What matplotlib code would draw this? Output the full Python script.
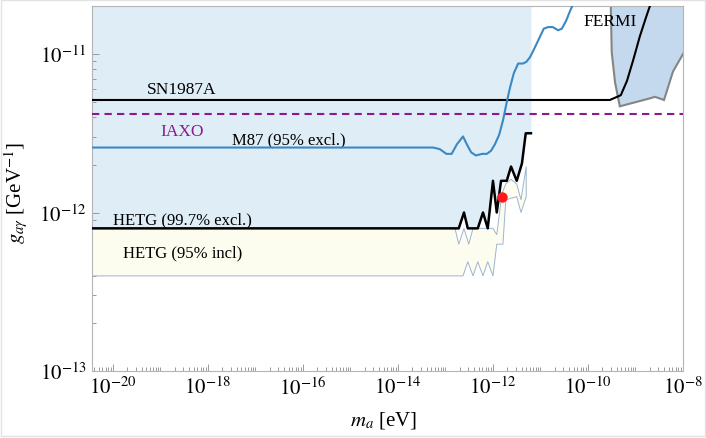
import matplotlib
matplotlib.use("Agg")
import matplotlib.pyplot as plt
import numpy as np
from matplotlib.ticker import FixedLocator, LogLocator, NullFormatter, FixedFormatter

plt.rcParams['font.family'] = ['Liberation Serif', 'DejaVu Serif']
plt.rcParams['mathtext.fontset'] = 'stix'

# all values as log10(m_a / eV) and log10(g / GeV^-1)
XLIM = (-20.44, -8.0)
YLIM = (-13.0, -10.697)

# HETG 99.7% exclusion (black line)
hetg_m = [-20.6, -12.72, -12.61, -12.53, -12.32, -12.21, -12.11, -12.00, -11.92,
          -11.83, -11.71, -11.62, -11.50, -11.39, -11.31, -11.20]
hetg_g = [-12.10, -12.10, -12.00, -12.10, -12.10, -12.00, -12.10, -11.80, -12.00,
          -11.80, -11.80, -11.71, -11.80, -11.69, -11.50, -11.50]

# HETG 95% inclusion band
band_up_m = [-20.6, -12.80, -12.72, -12.61, -12.51, -12.42, -12.00, -11.92, -11.81,
             -11.73, -11.62, -11.50, -11.41, -11.30]
band_up_g = [-12.10, -12.10, -12.20, -12.10, -12.20, -12.10, -12.10, -12.14, -11.88,
             -11.82, -11.79, -11.82, -11.92, -11.71]
band_lo_m = [-20.6, -12.63, -12.53, -12.42, -12.32, -12.21, -12.11, -12.00, -11.92,
             -11.79, -11.73, -11.50, -11.41, -11.30]
band_lo_g = [-12.40, -12.40, -12.31, -12.40, -12.31, -12.40, -12.31, -12.40, -12.20,
             -12.20, -11.92, -11.90, -12.00, -11.90]

# M87 95% exclusion
m87_m = [-20.6, -13.26, -13.12, -12.98, -12.87, -12.76, -12.63, -12.55, -12.46, -12.36,
         -12.23, -12.13, -12.04, -11.96, -11.87, -11.79, -11.70, -11.64, -11.56, -11.47,
         -11.37, -11.30, -11.22, -11.12, -11.01, -10.93, -10.84, -10.74, -10.63, -10.55,
         -10.46, -10.38, -10.32]
m87_g = [-11.59, -11.59, -11.60, -11.63, -11.63, -11.57, -11.52, -11.57, -11.62, -11.64,
         -11.63, -11.63, -11.61, -11.57, -11.51, -11.42, -11.29, -11.21, -11.12, -11.06,
         -11.06, -11.05, -11.02, -10.96, -10.89, -10.84, -10.83, -10.83, -10.85, -10.84,
         -10.79, -10.73, -10.69]

# SN1987A
sn_m = [-20.6, -9.54, -9.31, -9.18, -9.05, -8.91, -8.78, -8.70, -8.63]
sn_g = [-11.29, -11.29, -11.26, -11.17, -11.04, -10.89, -10.77, -10.70, -10.65]

# FERMI excluded region
fermi_m = [-9.52, -9.52, -9.50, -9.43, -9.33, -8.70, -8.59, -8.40, -8.21, -8.00, -7.80, -7.80]
fermi_g = [-10.60, -10.70, -10.99, -11.18, -11.33, -11.28, -11.27, -11.29, -11.11, -11.00,
           -10.90, -10.60]

# IAXO sensitivity
iaxo_g = -11.379

# best fit point
dot_m, dot_g = -11.81, -11.90


def p(v):
    return 10.0 ** np.asarray(v, dtype=float)


fig = plt.figure(figsize=(7.06, 4.39), dpi=100)
ax = fig.add_axes([92 / 706, 1 - 372 / 439, (683 - 92) / 706, (372 - 7) / 439])
ax.set_xscale('log')
ax.set_yscale('log')

top = 10 ** -10.5
ax.fill_between(p(hetg_m), p(hetg_g), top, color='#deedf6', lw=0, zorder=1)
ax.fill(np.concatenate([p(band_up_m), p(band_lo_m)[::-1]]),
        np.concatenate([p(band_up_g), p(band_lo_g)[::-1]]),
        facecolor='#fdfdef', edgecolor='#9db4d0', lw=0.7, zorder=2)
ax.fill(p(fermi_m), p(fermi_g), facecolor='#c5d9ee', edgecolor='#858585', lw=1.5, zorder=2)

ax.axhline(p(iaxo_g), color='#8c1a8c', lw=1.5, ls=(0, (3.5, 2.5)), zorder=3)
ax.plot(p(sn_m), p(sn_g), color='black', lw=1.5, zorder=4)
ax.plot(p(m87_m), p(m87_g), color='#3b88c3', lw=1.5, zorder=4)
ax.plot(p(hetg_m), p(hetg_g), color='black', lw=1.8, zorder=5)
ax.plot(p(dot_m), p(dot_g), 'o', color='#ff1a1a', ms=6.5, zorder=6)

fs = 12.5
ax.text(p(-18.55), p(-11.221), 'SN1987A', fontsize=fs, ha='center', va='center')
ax.text(p(-18.55), p(-11.486), 'IAXO', fontsize=fs, ha='center', va='center', color='#8c1a8c')
ax.text(p(-16.30), p(-11.536), 'M87 (95% excl.)', fontsize=fs - 0.5, ha='center', va='center')
ax.text(p(-18.53), p(-12.041), 'HETG (99.7% excl.)', fontsize=fs - 0.5, ha='center', va='center')
ax.text(p(-18.53), p(-12.249), 'HETG (95% incl)', fontsize=fs - 0.5, ha='center', va='center')
ax.text(p(-9.54), p(-10.792), 'FERMI', fontsize=fs, ha='center', va='center')

ax.set_xlim(p(XLIM[0]), p(XLIM[1]))
ax.set_ylim(p(YLIM[0]), p(YLIM[1]))

xt = [-20, -18, -16, -14, -12, -10, -8]
ax.xaxis.set_major_locator(FixedLocator(p(xt)))
ax.xaxis.set_major_formatter(FixedFormatter([r'$10^{%d}$' % v for v in xt]))
ax.xaxis.set_minor_locator(LogLocator(base=10, subs=np.arange(1, 10), numticks=100))
ax.xaxis.set_minor_formatter(NullFormatter())
yt = [-13, -12, -11]
ax.yaxis.set_major_locator(FixedLocator(p(yt)))
ax.yaxis.set_major_formatter(FixedFormatter([r'$10^{%d}$' % v for v in yt]))
ax.yaxis.set_minor_locator(LogLocator(base=10, subs=np.arange(2, 10), numticks=100))
ax.yaxis.set_minor_formatter(NullFormatter())

ax.tick_params(which='both', direction='in', color='#9a9a9a', width=0.7,
               top=False, right=False, labelsize=15, pad=4)
ax.tick_params(which='major', length=5)
ax.tick_params(which='minor', length=3)
for s in ax.spines.values():
    s.set_color('#b5b5b5')
    s.set_linewidth(0.8)

ax.set_xlabel(r'$m_a$ [eV]', fontsize=15)
ax.xaxis.set_label_coords(0.494, -0.104)
ax.set_ylabel(r'$g_{a\gamma}$ [GeV$^{-1}$]', fontsize=15)
ax.yaxis.set_label_coords(-0.105, 0.49)

fig.patches.append(plt.Rectangle((0.002, 0.004), 0.996, 0.993, transform=fig.transFigure,
                                 fill=False, edgecolor='#e2e2e2', lw=1))

fig.savefig('out.png', dpi=100)
